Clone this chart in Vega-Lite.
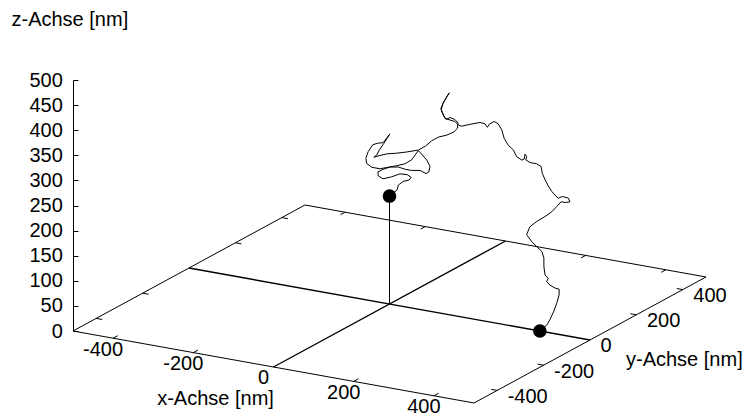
{
  "$schema": "https://vega.github.io/schema/vega-lite/v6.json",
  "width": 633,
  "height": 251,
  "autosize": {"type": "none"},
  "padding": {"left": 73, "top": 80, "right": 49, "bottom": 87},
  "background": "white",
  "config": {"view": {"stroke": null}, "text": {"font": "Liberation Sans"}},
  "datasets": {
    "frame": [
      {"x1": -500, "y1": -500, "z1": 0, "x2": 500, "y2": -500, "z2": 0},
      {"x1": 500, "y1": -500, "z1": 0, "x2": 500, "y2": 500, "z2": 0},
      {"x1": 500, "y1": 500, "z1": 0, "x2": -500, "y2": 500, "z2": 0},
      {"x1": -500, "y1": 500, "z1": 0, "x2": -500, "y2": -500, "z2": 0},
      {"x1": -400, "y1": -500, "z1": 0, "x2": -400, "y2": -480, "z2": 0},
      {"x1": -200, "y1": -500, "z1": 0, "x2": -200, "y2": -480, "z2": 0},
      {"x1": 200, "y1": -500, "z1": 0, "x2": 200, "y2": -480, "z2": 0},
      {"x1": 400, "y1": -500, "z1": 0, "x2": 400, "y2": -480, "z2": 0},
      {"x1": -400, "y1": 500, "z1": 0, "x2": -400, "y2": 480, "z2": 0},
      {"x1": -200, "y1": 500, "z1": 0, "x2": -200, "y2": 480, "z2": 0},
      {"x1": 200, "y1": 500, "z1": 0, "x2": 200, "y2": 480, "z2": 0},
      {"x1": 400, "y1": 500, "z1": 0, "x2": 400, "y2": 480, "z2": 0},
      {"x1": 500, "y1": -400, "z1": 0, "x2": 485, "y2": -400, "z2": 0},
      {"x1": 500, "y1": -200, "z1": 0, "x2": 485, "y2": -200, "z2": 0},
      {"x1": 500, "y1": 200, "z1": 0, "x2": 485, "y2": 200, "z2": 0},
      {"x1": 500, "y1": 400, "z1": 0, "x2": 485, "y2": 400, "z2": 0},
      {"x1": -500, "y1": -400, "z1": 0, "x2": -485, "y2": -400, "z2": 0},
      {"x1": -500, "y1": -200, "z1": 0, "x2": -485, "y2": -200, "z2": 0},
      {"x1": -500, "y1": 200, "z1": 0, "x2": -485, "y2": 200, "z2": 0},
      {"x1": -500, "y1": 400, "z1": 0, "x2": -485, "y2": 400, "z2": 0}
    ],
    "zeroaxes": [
      {"x1": -500, "y1": 0, "z1": 0, "x2": 500, "y2": 0, "z2": 0},
      {"x1": 0, "y1": -500, "z1": 0, "x2": 0, "y2": 500, "z2": 0}
    ],
    "impulse": [
      {"x1": 0, "y1": 0, "z1": 0, "x2": 0, "y2": 0, "z2": 215}
    ],
    "path": [
      {"i": 0, "x": 0, "y": 0, "z": 215}, {"i": 1, "x": 19, "y": 0, "z": 230}, {"i": 2, "x": 22, "y": 0, "z": 240},
      {"i": 3, "x": 34, "y": 0, "z": 249}, {"i": 4, "x": 49, "y": 0, "z": 254}, {"i": 5, "x": 54, "y": 0, "z": 260},
      {"i": 6, "x": 44, "y": 0, "z": 264}, {"i": 7, "x": 26, "y": 0, "z": 263}, {"i": 8, "x": 5, "y": 0, "z": 254},
      {"i": 9, "x": -16, "y": 0, "z": 247}, {"i": 10, "x": -28, "y": 0, "z": 251}, {"i": 11, "x": -29, "y": 0, "z": 259},
      {"i": 12, "x": -16, "y": 0, "z": 266}, {"i": 13, "x": 1, "y": 0, "z": 273}, {"i": 14, "x": 22, "y": 0, "z": 276},
      {"i": 15, "x": 39, "y": 0, "z": 274}, {"i": 16, "x": 55, "y": 0, "z": 274}, {"i": 17, "x": 76, "y": 0, "z": 277},
      {"i": 18, "x": 91, "y": 0, "z": 273}, {"i": 19, "x": 98, "y": 0, "z": 277}, {"i": 20, "x": 101, "y": 0, "z": 289},
      {"i": 21, "x": 93, "y": 0, "z": 300}, {"i": 22, "x": 80, "y": 0, "z": 310}, {"i": 23, "x": 72, "y": 0, "z": 316},
      {"i": 24, "x": 64, "y": 0, "z": 306}, {"i": 25, "x": 55, "y": 0, "z": 295}, {"i": 26, "x": 39, "y": 0, "z": 285},
      {"i": 27, "x": 18, "y": 0, "z": 278}, {"i": 28, "x": -3, "y": 0, "z": 272}, {"i": 29, "x": -24, "y": 0, "z": 266},
      {"i": 30, "x": -44, "y": 0, "z": 266}, {"i": 31, "x": -57, "y": 0, "z": 272}, {"i": 32, "x": -59, "y": 0, "z": 282},
      {"i": 33, "x": -53, "y": 0, "z": 296}, {"i": 34, "x": -42, "y": 0, "z": 311}, {"i": 35, "x": -30, "y": 0, "z": 316},
      {"i": 36, "x": -16, "y": 0, "z": 319}, {"i": 37, "x": 1, "y": 0, "z": 339}, {"i": 38, "x": -14, "y": 0, "z": 318},
      {"i": 39, "x": -24, "y": 0, "z": 305}, {"i": 40, "x": -32, "y": 0, "z": 292}, {"i": 41, "x": -39, "y": 0, "z": 287},
      {"i": 42, "x": -28, "y": 0, "z": 291}, {"i": 43, "x": -7, "y": 0, "z": 298}, {"i": 44, "x": 18, "y": 0, "z": 303},
      {"i": 45, "x": 43, "y": 0, "z": 309}, {"i": 46, "x": 72, "y": 0, "z": 317}, {"i": 47, "x": 89, "y": 0, "z": 327},
      {"i": 48, "x": 105, "y": 0, "z": 340}, {"i": 49, "x": 122, "y": 0, "z": 350}, {"i": 50, "x": 143, "y": 0, "z": 357},
      {"i": 51, "x": 161, "y": 0, "z": 366}, {"i": 52, "x": 169, "y": 0, "z": 374}, {"i": 53, "x": 171, "y": 0, "z": 385},
      {"i": 54, "x": 163, "y": 0, "z": 391}, {"i": 55, "x": 151, "y": 0, "z": 393}, {"i": 56, "x": 141, "y": 0, "z": 388},
      {"i": 57, "x": 134, "y": 0, "z": 396}, {"i": 58, "x": 128, "y": 0, "z": 408}, {"i": 59, "x": 138, "y": 0, "z": 426},
      {"i": 60, "x": 149, "y": 0, "z": 442}, {"i": 61, "x": 133, "y": 0, "z": 419}, {"i": 62, "x": 129, "y": 0, "z": 405},
      {"i": 63, "x": 138, "y": 0, "z": 390}, {"i": 64, "x": 151, "y": 0, "z": 388}, {"i": 65, "x": 163, "y": 0, "z": 387},
      {"i": 66, "x": 172, "y": 0, "z": 381}, {"i": 67, "x": 180, "y": 0, "z": 380}, {"i": 68, "x": 205, "y": 0, "z": 388},
      {"i": 69, "x": 226, "y": 0, "z": 394}, {"i": 70, "x": 238, "y": 0, "z": 393}, {"i": 71, "x": 244, "y": 0, "z": 387},
      {"i": 72, "x": 249, "y": 0, "z": 394}, {"i": 73, "x": 261, "y": 0, "z": 401}, {"i": 74, "x": 271, "y": 0, "z": 398},
      {"i": 75, "x": 280, "y": 0, "z": 387}, {"i": 76, "x": 286, "y": 0, "z": 371}, {"i": 77, "x": 296, "y": 0, "z": 359},
      {"i": 78, "x": 309, "y": 0, "z": 351}, {"i": 79, "x": 317, "y": 0, "z": 339}, {"i": 80, "x": 330, "y": 0, "z": 334},
      {"i": 81, "x": 336, "y": 0, "z": 337}, {"i": 82, "x": 338, "y": 0, "z": 347}, {"i": 83, "x": 342, "y": 0, "z": 343},
      {"i": 84, "x": 340, "y": 0, "z": 336}, {"i": 85, "x": 350, "y": 0, "z": 332}, {"i": 86, "x": 367, "y": 0, "z": 332},
      {"i": 87, "x": 378, "y": 0, "z": 328}, {"i": 88, "x": 381, "y": 0, "z": 315}, {"i": 89, "x": 388, "y": 0, "z": 303},
      {"i": 90, "x": 396, "y": 0, "z": 292}, {"i": 91, "x": 405, "y": 0, "z": 282}, {"i": 92, "x": 413, "y": 0, "z": 276},
      {"i": 93, "x": 421, "y": 0, "z": 271}, {"i": 94, "x": 431, "y": 0, "z": 276}, {"i": 95, "x": 446, "y": 0, "z": 275},
      {"i": 96, "x": 450, "y": 0, "z": 268}, {"i": 97, "x": 438, "y": 0, "z": 265}, {"i": 98, "x": 428, "y": 0, "z": 265},
      {"i": 99, "x": 417, "y": 0, "z": 254}, {"i": 100, "x": 405, "y": 0, "z": 242}, {"i": 101, "x": 388, "y": 0, "z": 230},
      {"i": 102, "x": 367, "y": 0, "z": 217}, {"i": 103, "x": 350, "y": 0, "z": 204}, {"i": 104, "x": 342, "y": 0, "z": 187},
      {"i": 105, "x": 355, "y": 0, "z": 175}, {"i": 106, "x": 367, "y": 0, "z": 167}, {"i": 107, "x": 380, "y": 0, "z": 159},
      {"i": 108, "x": 385, "y": 0, "z": 147}, {"i": 109, "x": 385, "y": 0, "z": 130}, {"i": 110, "x": 388, "y": 0, "z": 113},
      {"i": 111, "x": 396, "y": 0, "z": 108}, {"i": 112, "x": 392, "y": 0, "z": 101}, {"i": 113, "x": 400, "y": 0, "z": 95},
      {"i": 114, "x": 413, "y": 0, "z": 91}, {"i": 115, "x": 423, "y": 0, "z": 90}, {"i": 116, "x": 423, "y": 0, "z": 79},
      {"i": 117, "x": 417, "y": 0, "z": 61}, {"i": 118, "x": 409, "y": 0, "z": 43}, {"i": 119, "x": 400, "y": 0, "z": 26},
      {"i": 120, "x": 392, "y": 0, "z": 14}, {"i": 121, "x": 375, "y": 0, "z": 0}
    ],
    "ends": [
      {"x": 0, "y": 0, "z": 215},
      {"x": 375, "y": 0, "z": 0}
    ],
    "xlabels": [
      {"x": -400, "y": -500, "z": 0, "label": "-400"},
      {"x": -200, "y": -500, "z": 0, "label": "-200"},
      {"x": 0, "y": -500, "z": 0, "label": "0"},
      {"x": 200, "y": -500, "z": 0, "label": "200"},
      {"x": 400, "y": -500, "z": 0, "label": "400"}
    ],
    "ylabels": [
      {"x": 500, "y": -400, "z": 0, "label": "-400"},
      {"x": 500, "y": -200, "z": 0, "label": "-200"},
      {"x": 500, "y": 0, "z": 0, "label": "0"},
      {"x": 500, "y": 200, "z": 0, "label": "200"},
      {"x": 500, "y": 400, "z": 0, "label": "400"}
    ],
    "xtitle": [{"x": 0, "y": -500, "z": 0, "label": "x-Achse [nm]"}],
    "ytitle": [{"x": 500, "y": 0, "z": 0, "label": "y-Achse [nm]"}]
  },
  "encoding": {
    "x": {"field": "px", "type": "quantitative", "scale": {"domain": [0, 1578.55], "nice": false, "zero": false}, "axis": null},
    "y": {
      "field": "pz", "type": "quantitative",
      "scale": {"domain": [0, 500], "nice": false, "zero": false},
      "axis": {
        "values": [0, 50, 100, 150, 200, 250, 300, 350, 400, 450, 500],
        "title": "z-Achse [nm]",
        "titleAngle": 0, "titleAlign": "left", "titleBaseline": "alphabetic",
        "titleX": -62, "titleY": -55,
        "titleFont": "Liberation Sans", "titleFontSize": 20, "titleFontWeight": "normal", "titleColor": "black",
        "labelFont": "Liberation Sans", "labelFontSize": 20, "labelColor": "black",
        "labelPadding": 15.7, "labelOverlap": false, "labelFlush": false,
        "tickSize": -5, "tickColor": "black", "tickWidth": 1,
        "domainColor": "black", "domainWidth": 1, "grid": false
      }
    }
  },
  "layer": [
    {
      "data": {"name": "frame"},
      "transform": [
        {"calculate": "(datum.x1+500) + 0.57855*(datum.y1+500)", "as": "px"},
        {"calculate": "datum.z1 - 0.143426*(datum.x1+500) + 0.250996*(datum.y1+500)", "as": "pz"},
        {"calculate": "(datum.x2+500) + 0.57855*(datum.y2+500)", "as": "px2"},
        {"calculate": "datum.z2 - 0.143426*(datum.x2+500) + 0.250996*(datum.y2+500)", "as": "pz2"}
      ],
      "mark": {"type": "rule", "color": "black", "strokeWidth": 1},
      "encoding": {"x2": {"field": "px2"}, "y2": {"field": "pz2"}}
    },
    {
      "data": {"name": "zeroaxes"},
      "transform": [
        {"calculate": "(datum.x1+500) + 0.57855*(datum.y1+500)", "as": "px"},
        {"calculate": "datum.z1 - 0.143426*(datum.x1+500) + 0.250996*(datum.y1+500)", "as": "pz"},
        {"calculate": "(datum.x2+500) + 0.57855*(datum.y2+500)", "as": "px2"},
        {"calculate": "datum.z2 - 0.143426*(datum.x2+500) + 0.250996*(datum.y2+500)", "as": "pz2"}
      ],
      "mark": {"type": "rule", "color": "black", "strokeWidth": 1.4},
      "encoding": {"x2": {"field": "px2"}, "y2": {"field": "pz2"}}
    },
    {
      "data": {"name": "impulse"},
      "transform": [
        {"calculate": "(datum.x1+500) + 0.57855*(datum.y1+500)", "as": "px"},
        {"calculate": "datum.z1 - 0.143426*(datum.x1+500) + 0.250996*(datum.y1+500)", "as": "pz"},
        {"calculate": "(datum.x2+500) + 0.57855*(datum.y2+500)", "as": "px2"},
        {"calculate": "datum.z2 - 0.143426*(datum.x2+500) + 0.250996*(datum.y2+500)", "as": "pz2"}
      ],
      "mark": {"type": "rule", "color": "black", "strokeWidth": 1},
      "encoding": {"x2": {"field": "px2"}, "y2": {"field": "pz2"}}
    },
    {
      "data": {"name": "path"},
      "transform": [
        {"calculate": "(datum.x+500) + 0.57855*(datum.y+500)", "as": "px"},
        {"calculate": "datum.z - 0.143426*(datum.x+500) + 0.250996*(datum.y+500)", "as": "pz"}
      ],
      "mark": {"type": "line", "color": "black", "strokeWidth": 1},
      "encoding": {"order": {"field": "i", "type": "quantitative"}}
    },
    {
      "data": {"name": "ends"},
      "transform": [
        {"calculate": "(datum.x+500) + 0.57855*(datum.y+500)", "as": "px"},
        {"calculate": "datum.z - 0.143426*(datum.x+500) + 0.250996*(datum.y+500)", "as": "pz"}
      ],
      "mark": {"type": "point", "shape": "circle", "filled": true, "color": "black", "opacity": 1, "size": 185}
    },
    {
      "data": {"name": "xlabels"},
      "transform": [
        {"calculate": "(datum.x+500) + 0.57855*(datum.y+500)", "as": "px"},
        {"calculate": "datum.z - 0.143426*(datum.x+500) + 0.250996*(datum.y+500)", "as": "pz"}
      ],
      "mark": {"type": "text", "align": "center", "baseline": "alphabetic", "dx": -10, "dy": 17.5, "fontSize": 20, "font": "Liberation Sans", "color": "black"},
      "encoding": {"text": {"field": "label", "type": "nominal"}}
    },
    {
      "data": {"name": "ylabels"},
      "transform": [
        {"calculate": "(datum.x+500) + 0.57855*(datum.y+500)", "as": "px"},
        {"calculate": "datum.z - 0.143426*(datum.x+500) + 0.250996*(datum.y+500)", "as": "pz"}
      ],
      "mark": {"type": "text", "align": "left", "baseline": "alphabetic", "dx": 10.5, "dy": 12.5, "fontSize": 20, "font": "Liberation Sans", "color": "black"},
      "encoding": {"text": {"field": "label", "type": "nominal"}}
    },
    {
      "data": {"name": "xtitle"},
      "transform": [
        {"calculate": "(datum.x+500) + 0.57855*(datum.y+500)", "as": "px"},
        {"calculate": "datum.z - 0.143426*(datum.x+500) + 0.250996*(datum.y+500)", "as": "pz"}
      ],
      "mark": {"type": "text", "align": "center", "baseline": "alphabetic", "dx": -58, "dy": 38.5, "fontSize": 20, "font": "Liberation Sans", "color": "black"},
      "encoding": {"text": {"field": "label", "type": "nominal"}}
    },
    {
      "data": {"name": "ytitle"},
      "transform": [
        {"calculate": "(datum.x+500) + 0.57855*(datum.y+500)", "as": "px"},
        {"calculate": "datum.z - 0.143426*(datum.x+500) + 0.250996*(datum.y+500)", "as": "pz"}
      ],
      "mark": {"type": "text", "align": "left", "baseline": "alphabetic", "dx": 36, "dy": 26.5, "fontSize": 20, "font": "Liberation Sans", "color": "black"},
      "encoding": {"text": {"field": "label", "type": "nominal"}}
    }
  ]
}
